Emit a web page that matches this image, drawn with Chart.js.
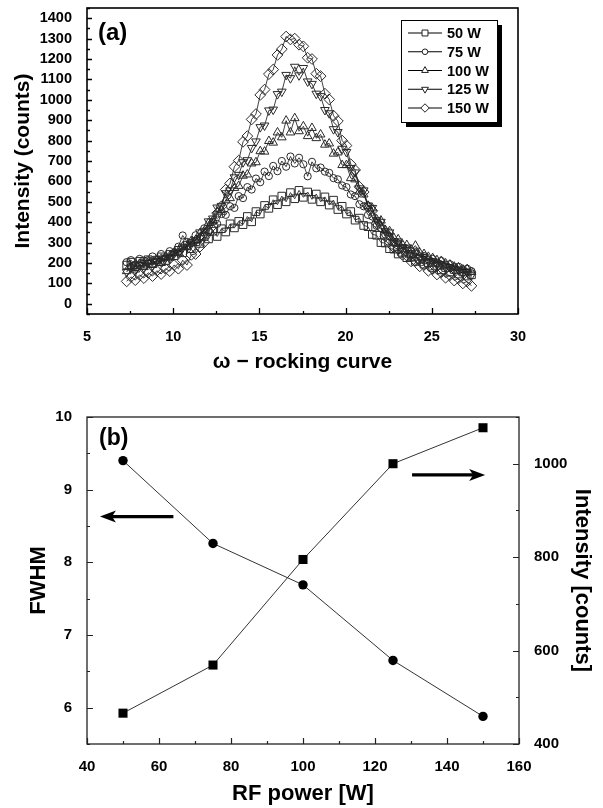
<!DOCTYPE html>
<html><head><meta charset="utf-8">
<script src="https://cdn.jsdelivr.net/npm/chart.js@4.4.0/dist/chart.umd.min.js"></script>
<style>
html,body{margin:0;padding:0;background:#fff;}
#wrap{position:relative;width:603px;height:808px;overflow:hidden;background:#fff;}
canvas{position:absolute;left:0;}
#ca{top:0;} #cb{top:390px;}
</style></head><body>
<div id="wrap"><canvas id="ca" width="603" height="390"></canvas><canvas id="cb" width="603" height="418"></canvas></div>
<script>
// ---------- DATA (a) ----------
const omega = [7.30,7.55,7.80,8.05,8.30,8.55,8.80,9.05,9.30,9.55,
 9.80,10.05,10.30,10.55,10.80,11.05,11.30,11.55,11.80,12.05,
 12.30,12.55,12.80,13.05,13.30,13.55,13.80,14.05,14.30,14.55,
 14.80,15.05,15.30,15.55,15.80,16.05,16.30,16.55,16.80,17.05,
 17.30,17.55,17.80,18.05,18.30,18.55,18.80,19.05,19.30,19.55,
 19.80,20.05,20.30,20.55,20.80,21.05,21.30,21.55,21.80,22.05,
 22.30,22.55,22.80,23.05,23.30,23.55,23.80,24.05,24.30,24.55,
 24.80,25.05,25.30,25.55,25.80,26.05,26.30,26.55,26.80,27.05,27.30];
const w50 = [190,204,182,208,194,216,200,214,230,212,
 242,236,262,250,286,270,304,296,330,318,
 356,330,368,352,392,372,404,388,428,402,
 452,440,482,468,510,486,528,500,545,515,
 556,522,548,512,538,500,524,484,508,462,
 478,440,452,410,420,384,378,340,336,300,
 298,270,268,244,252,226,232,208,218,194,
 202,178,188,166,178,156,168,146,156,136,142];
const w75 = [204,214,192,220,212,214,232,214,244,226,
 258,250,280,335,304,298,336,322,370,360,
 402,392,440,436,478,470,528,518,572,560,
 614,596,648,626,676,650,700,672,722,688,
 716,684,625,696,664,668,648,642,616,610,
 580,572,536,528,488,478,436,428,382,370,
 340,330,298,296,270,268,246,250,232,234,
 218,220,202,210,192,194,180,182,168,172,160];
const w100 = [160,182,168,194,180,204,190,216,200,230,
 226,250,250,280,280,308,312,346,356,396,
 408,452,460,510,518,568,578,628,634,688,
 694,748,746,798,790,840,816,898,840,910,
 846,870,822,862,812,830,780,786,736,742,
 680,680,616,610,550,536,480,468,414,408,
 362,356,322,316,290,288,266,285,250,244,
 230,224,214,210,198,192,182,178,168,170,156];
const w125 = [156,178,162,190,176,200,186,210,206,224,
 222,246,248,276,278,302,312,350,358,404,
 418,472,480,542,556,620,632,694,704,764,
 796,866,874,948,952,1028,1040,1122,1106,1162,
 1120,1156,1090,1078,1030,1018,950,934,856,842,
 760,744,666,644,566,556,482,470,410,402,
 356,350,306,306,276,276,248,248,228,230,
 208,208,192,194,178,180,162,168,150,156,140];
const w150 = [110,132,116,142,126,152,136,162,146,172,
 160,190,172,214,190,240,244,280,302,356,
 382,444,478,560,590,672,702,794,822,904,
 930,1024,1050,1126,1148,1220,1248,1310,1296,1300,
 1270,1262,1206,1200,1128,1116,1030,1002,922,896,
 800,776,684,656,574,548,478,456,394,376,
 330,316,276,268,240,236,208,210,184,190,
 162,170,144,154,128,140,114,124,100,110,88];
const seriesLabelsA = ['50 W','75 W','100 W','125 W','150 W'];
const xTicksA = [5,10,15,20,25,30];
const yTicksA = [0,100,200,300,400,500,600,700,800,900,1000,1100,1200,1300,1400];

// ---------- DATA (b) ----------
const rfPower = [50,75,100,125,150];
const fwhm = [9.40,8.26,7.69,6.65,5.88];
const intensityB = [466,569,795,1000,1077];
const xTicksB = [40,60,80,100,120,140,160];
const fwhmTicks = [6,7,8,9,10];
const intTicksB = [400,600,800,1000];

// ---------- styling ----------
const FF = '"Liberation Sans", Arial, Helvetica, sans-serif';
Chart.defaults.font.family = FF;
Chart.defaults.color = '#000';
const shapes = [
  {style:'rect', r:5.4, rot:0},
  {style:'circle', r:3.6, rot:0},
  {style:'triangle', r:5.0, rot:0},
  {style:'triangle', r:5.0, rot:180},
  {style:'rectRot', r:5.4, rot:0}
];

function drawMarker(ctx, s, scale, x, y){
  const r = s.r*scale;
  ctx.beginPath();
  if (s.style==='rect'){const h=r*Math.SQRT1_2; ctx.rect(x-h,y-h,2*h,2*h);}
  else if (s.style==='circle'){ctx.arc(x,y,r,0,Math.PI*2);}
  else if (s.style==='rectRot'){ctx.moveTo(x,y-r);ctx.lineTo(x+r,y);ctx.lineTo(x,y+r);ctx.lineTo(x-r,y);ctx.closePath();}
  else {const d = s.rot===180?-1:1; ctx.moveTo(x,y-d*r); ctx.lineTo(x+r*0.866,y+d*r*0.5); ctx.lineTo(x-r*0.866,y+d*r*0.5); ctx.closePath();}
  ctx.fill(); ctx.stroke();
}

function inwardTicks(ctx, scale, majors, minorStep, side, area, majLen, minLen){
  const vals = majors.map(v=>[v,majLen]);
  for (let v = Math.ceil(scale.min/minorStep)*minorStep; v <= scale.max+1e-9; v += minorStep){
    if (!majors.some(m=>Math.abs(m-v)<1e-6)) vals.push([v,minLen]);
  }
  ctx.beginPath();
  vals.forEach(([v,len])=>{
    const p = Math.round(scale.getPixelForValue(v))+0.5;
    if (side==='bottom'){ctx.moveTo(p,area.bottom);ctx.lineTo(p,area.bottom-len);}
    else if (side==='left'){ctx.moveTo(area.left,p);ctx.lineTo(area.left+len,p);}
    else {ctx.moveTo(area.right,p);ctx.lineTo(area.right-len,p);}
  });
  ctx.stroke();
}

const tickFont = (sz)=>({family:FF,size:sz,weight:'bold'});
const numCb = v => String(v);

// ---------- chart (a) ----------
const datasetsA = [w50,w75,w100,w125,w150].map((vals,i)=>({
  label: seriesLabelsA[i],
  data: omega.map((x,j)=>({x:x, y:vals[j]})),
  showLine:true,
  borderColor:'#111', borderWidth:0.8,
  pointStyle: shapes[i].style, pointRadius: shapes[i].r, pointRotation: shapes[i].rot,
  pointBorderColor:'#2a2a2a', pointBackgroundColor:'rgba(255,255,255,0)', pointBorderWidth:1
}));

const pluginA = {
  id:'decorA',
  afterDatasetsDraw(chart){
    const {ctx, chartArea:a, scales:{x,y}} = chart;
    ctx.save();
    ctx.strokeStyle='#000'; ctx.lineWidth=1.6;
    ctx.strokeRect(a.left,a.top,a.right-a.left,a.bottom-a.top);
    ctx.lineWidth=1.3;
    inwardTicks(ctx,x,xTicksA,2.5,'bottom',a,6,3);
    inwardTicks(ctx,y,yTicksA,50,'left',a,5,3);
    ctx.fillStyle='#000'; ctx.font='bold 24px '+FF; ctx.textBaseline='middle'; ctx.textAlign='left';
    ctx.fillText('(a)', a.left+11, a.top+25);
    const bx=401, by=20, bw=96, bh=102;
    ctx.fillStyle='#000'; ctx.fillRect(bx+5,by+5,bw,bh);
    ctx.fillStyle='#fff'; ctx.fillRect(bx,by,bw,bh);
    ctx.lineWidth=1; ctx.strokeStyle='#000'; ctx.strokeRect(bx+0.5,by+0.5,bw,bh);
    chart.data.datasets.forEach((ds,i)=>{
      const ry = by+13+i*18.75;
      ctx.strokeStyle='#000'; ctx.lineWidth=1;
      ctx.beginPath(); ctx.moveTo(408,ry); ctx.lineTo(442,ry); ctx.stroke();
      ctx.fillStyle='#fff'; ctx.strokeStyle='#222';
      drawMarker(ctx, shapes[i], 0.78, 425, ry);
      ctx.fillStyle='#000'; ctx.font='bold 14.5px '+FF; ctx.textAlign='left'; ctx.textBaseline='middle';
      ctx.fillText(ds.label, 447, ry+1);
    });
    ctx.restore();
  }
};

new Chart(document.getElementById('ca'), {
  type:'scatter',
  data:{datasets:datasetsA},
  options:{
    responsive:false, animation:false, devicePixelRatio:1,
    layout:{padding:{top:8,right:85,left:0,bottom:0}},
    plugins:{legend:{display:false}, tooltip:{enabled:false}},
    scales:{
      x:{type:'linear', min:5, max:30,
        afterBuildTicks:s=>{s.ticks=xTicksA.map(v=>({value:v}));},
        afterFit:s=>{s.height=76; s.paddingLeft=0; s.paddingRight=0;},
        grid:{display:false}, border:{display:false},
        ticks:{font:tickFont(14.5), color:'#000', padding:6, maxRotation:0, autoSkip:false, callback:numCb},
        title:{display:true, text:'\u03C9 \u2212 rocking curve', color:'#000', font:{family:FF,size:21,weight:'bold'}, padding:{top:0,bottom:15}}
      },
      y:{type:'linear', min:-50, max:1450,
        afterBuildTicks:s=>{s.ticks=yTicksA.map(v=>({value:v}));},
        afterFit:s=>{s.width=87; s.paddingTop=0; s.paddingBottom=0;},
        grid:{display:false}, border:{display:false},
        ticks:{font:tickFont(14.5), color:'#000', padding:7, autoSkip:false, callback:numCb},
        title:{display:true, text:'Intensity (counts)', color:'#000', font:{family:FF,size:21,weight:'bold'}, padding:{top:11,bottom:0}}
      }
    }
  },
  plugins:[pluginA]
});

// ---------- chart (b) ----------
function arrow(ctx, x1, x2, y){
  const dir = Math.sign(x2-x1);
  ctx.lineWidth=3.2;
  ctx.beginPath(); ctx.moveTo(x1,y); ctx.lineTo(x2-dir*10,y); ctx.stroke();
  ctx.beginPath(); ctx.moveTo(x2,y); ctx.lineTo(x2-dir*16,y-6); ctx.lineTo(x2-dir*12,y); ctx.lineTo(x2-dir*16,y+6); ctx.closePath(); ctx.fill();
}

const pluginB = {
  id:'decorB',
  afterDatasetsDraw(chart){
    const {ctx, chartArea:a, scales:{x,y,y2}} = chart;
    ctx.save();
    ctx.strokeStyle='#222'; ctx.lineWidth=1.3;
    ctx.strokeRect(a.left,a.top,a.right-a.left,a.bottom-a.top);
    ctx.lineWidth=1.2;
    inwardTicks(ctx,x,xTicksB,10,'bottom',a,6,3);
    inwardTicks(ctx,y,fwhmTicks,0.5,'left',a,6,3);
    inwardTicks(ctx,y2,intTicksB,100,'right',a,6,3);
    ctx.fillStyle='#000'; ctx.font='bold 23px '+FF; ctx.textBaseline='middle'; ctx.textAlign='left';
    ctx.fillText('(b)', a.left+12, a.top+22);
    ctx.strokeStyle='#000'; ctx.fillStyle='#000';
    arrow(ctx, x.getPixelForValue(64), x.getPixelForValue(43.6), y.getPixelForValue(8.63));
    arrow(ctx, x.getPixelForValue(130.3), x.getPixelForValue(150.6), y2.getPixelForValue(976));
    ctx.restore();
  }
};

new Chart(document.getElementById('cb'), {
  type:'scatter',
  data:{datasets:[
    {label:'Intensity', yAxisID:'y2', data:rfPower.map((p,i)=>({x:p,y:intensityB[i]})), showLine:true,
     borderColor:'#333', borderWidth:1, pointStyle:'rect', pointRadius:6.4, pointBackgroundColor:'#000', pointBorderColor:'#000', pointBorderWidth:0},
    {label:'FWHM', yAxisID:'y', data:rfPower.map((p,i)=>({x:p,y:fwhm[i]})), showLine:true,
     borderColor:'#333', borderWidth:1, pointStyle:'circle', pointRadius:4.7, pointBackgroundColor:'#000', pointBorderColor:'#000', pointBorderWidth:0}
  ]},
  options:{
    responsive:false, animation:false, devicePixelRatio:1,
    layout:{padding:{top:27,right:0,left:0,bottom:0}},
    plugins:{legend:{display:false}, tooltip:{enabled:false}},
    scales:{
      x:{type:'linear', min:40, max:160,
        afterBuildTicks:s=>{s.ticks=xTicksB.map(v=>({value:v}));},
        afterFit:s=>{s.height=64; s.paddingLeft=0; s.paddingRight=0;},
        grid:{display:false}, border:{display:false},
        ticks:{font:tickFont(15), color:'#000', padding:6, maxRotation:0, autoSkip:false, callback:numCb},
        title:{display:true, text:'RF power [W]', color:'#000', font:{family:FF,size:22,weight:'bold'}, padding:{top:0,bottom:1}}
      },
      y:{type:'linear', position:'left', min:5.5, max:10,
        afterBuildTicks:s=>{s.ticks=fwhmTicks.map(v=>({value:v}));},
        afterFit:s=>{s.width=87; s.paddingTop=0; s.paddingBottom=0;},
        grid:{display:false}, border:{display:false},
        ticks:{font:tickFont(15), color:'#000', padding:7, autoSkip:false, callback:numCb},
        title:{display:true, text:'FWHM', color:'#000', font:{family:FF,size:22,weight:'bold'}, padding:{top:26,bottom:0}}
      },
      y2:{type:'linear', position:'right', min:400, max:1100,
        afterBuildTicks:s=>{s.ticks=intTicksB.map(v=>({value:v}));},
        afterFit:s=>{s.width=84; s.paddingTop=0; s.paddingBottom=0;},
        grid:{display:false}, border:{display:false},
        ticks:{font:tickFont(15), color:'#000', padding:7, autoSkip:false, callback:numCb},
        title:{display:true, text:'Intensity [counts]', color:'#000', font:{family:FF,size:22,weight:'bold'}, padding:{top:8,bottom:0}}
      }
    }
  },
  plugins:[pluginB]
});
</script>
</body></html>
